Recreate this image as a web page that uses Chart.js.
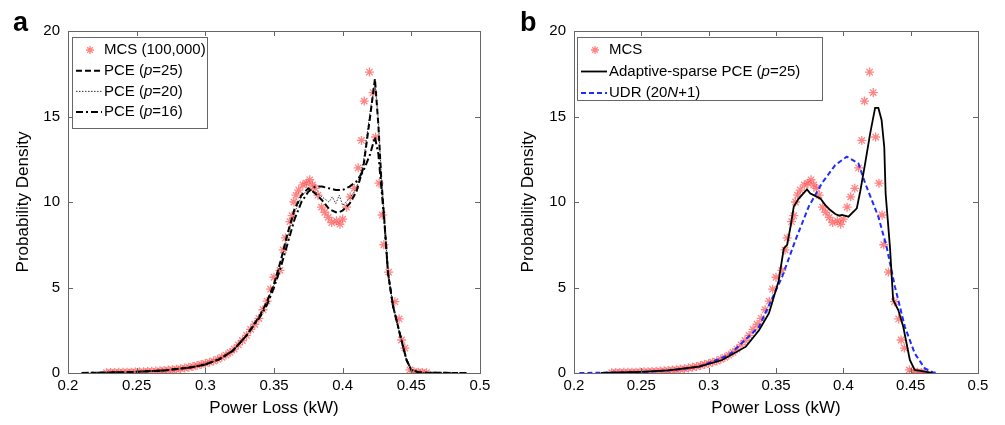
<!DOCTYPE html>
<html>
<head>
<title>Power loss PDF</title>
<script src="https://cdn.jsdelivr.net/npm/chart.js@4.4.0/dist/chart.umd.min.js"></script>
<style>
body { margin: 0; background: #fff; }
.panel { position: absolute; top: 0; height: 425px; }
#pa { left: 0; width: 500px; }
#pb { left: 505px; width: 500px; }
</style>
</head>
<body>
<div class="panel" id="pa"><canvas id="chartA"></canvas></div>
<div class="panel" id="pb"><canvas id="chartB"></canvas></div>
<script>
const FONT = "'Liberation Sans', Arial, sans-serif";

const xTicks = [0.2, 0.25, 0.3, 0.35, 0.4, 0.45, 0.5];
const yTicks = [0, 5, 10, 15, 20];

// MCS histogram points (shared by both panels)
const mcsX = [0.228,0.231,0.234,0.237,0.240,0.243,0.246,0.249,0.252,0.255,0.258,0.261,0.264,0.267,0.270,0.273,0.276,0.279,0.282,0.285,0.288,0.291,0.294,0.297,0.300,0.303,0.306,0.309,0.312,0.315,0.318,0.321,0.324,0.327,0.330,0.333,0.336,0.339,0.342,0.345,
  0.3475,0.350,0.3543,0.3567,0.3583,0.3616,0.3632,0.3645,0.366,0.368,0.371,0.3737,0.376,0.378,0.380,0.382,0.3846,0.387,0.3895,0.392,0.3955,0.398,0.400,0.4028,0.4055,0.4085,0.4113,0.4137,0.4157,0.4195,0.4222,0.4240,0.4265,0.4288,0.4300,0.4335,0.438,0.4411,0.4429,0.4453,0.449,0.452,0.455,0.458,0.461];
const mcsY = [0.02,0.03,0.03,0.04,0.04,0.05,0.05,0.06,0.07,0.08,0.09,0.10,0.11,0.13,0.15,0.17,0.19,0.22,0.25,0.29,0.33,0.38,0.44,0.50,0.56,0.63,0.70,0.80,0.92,1.05,1.20,1.40,1.65,1.90,2.2,2.55,2.85,3.2,3.7,4.2,
  4.9,5.6,6.0,7.2,7.9,8.85,9.2,10.0,10.4,10.7,11.0,11.1,11.3,11.0,10.8,10.4,9.7,9.4,9.1,8.8,8.9,8.7,9.0,9.7,10.3,10.8,12.0,13.6,15.9,17.6,16.4,13.8,11.1,9.24,7.5,5.9,4.17,3.16,1.93,1.46,0.18,0.08,0.05,0.03,0.02];

// panel a: PCE of different orders
const pceX = [0.21,0.23,0.25,0.27,0.29,0.30,0.31,0.32,0.33,0.34,0.345,0.35,0.355,0.36,0.365,0.37,0.375,0.38,0.385,0.39,0.3925,0.395,0.3975,0.40,0.405,0.41,0.415,0.42,0.4235,0.426,0.428,0.4307,0.433,0.4367,0.4416,0.4465,0.45,0.455,0.46,0.47,0.49];
const pce25 = [0,0.03,0.07,0.15,0.33,0.5,0.8,1.3,2.2,3.4,4.2,5.2,6.6,8.2,9.6,10.4,10.8,10.5,10.1,9.6,9.5,9.4,9.4,9.5,9.9,10.6,12.0,15.0,17.2,14.5,11.5,8.55,5.85,3.9,2.3,0.76,0.18,0.05,0.02,0.01,0];
const pce20 = [0,0.03,0.07,0.15,0.33,0.5,0.8,1.3,2.2,3.4,4.2,5.2,6.5,8.0,9.4,10.3,10.8,10.6,10.3,10.0,10.3,9.9,10.4,9.8,10.2,10.8,12.3,15.3,17.0,14.8,11.7,8.6,5.9,3.9,2.3,0.76,0.18,0.05,0.02,0.01,0];
const pce16 = [0,0.03,0.07,0.15,0.33,0.5,0.8,1.3,2.2,3.3,4.0,5.0,6.2,7.6,9.0,10.0,10.6,10.9,10.9,10.8,10.75,10.7,10.7,10.7,10.9,11.2,11.8,12.8,13.8,12.8,11.0,8.5,5.85,3.9,2.3,0.76,0.18,0.05,0.02,0.01,0];

// panel b: adaptive-sparse PCE and UDR
const asX = [0.22,0.25,0.27,0.293,0.31,0.3276,0.3374,0.3448,0.352,0.3558,0.3583,0.3608,0.3632,0.3669,0.373,0.3755,0.378,0.383,0.3866,0.3903,0.394,0.397,0.3989,0.4038,0.41,0.4125,0.4162,0.4199,0.4236,0.426,0.4284,0.4304,0.4314,0.4346,0.437,0.4408,0.4445,0.4494,0.453,0.463,0.466];
const asY = [0,0.07,0.15,0.37,0.76,1.54,2.5,3.5,5.4,7.29,7.5,8.56,9.73,10.2,10.74,10.5,10.4,10.2,9.82,9.53,9.3,9.2,9.24,9.14,9.63,10.6,12.26,14.0,15.5,15.5,14.8,13.2,10.5,7.39,4.27,3.68,2.7,0.76,0.18,0.05,0];
const udrX = [0.204,0.25,0.275,0.293,0.3152,0.3374,0.3546,0.3645,0.3743,0.3841,0.394,0.4026,0.4112,0.4162,0.426,0.4321,0.4383,0.4457,0.453,0.4605,0.4664,0.47];
const udrY = [0,0.05,0.18,0.37,1.05,2.7,5.63,7.78,9.73,11.1,12.16,12.65,12.26,11.1,9.14,7.39,5.05,2.7,1.15,0.27,0.05,0];

function pts(xs, ys) { return xs.map((x, i) => ({ x: x, y: ys[i] })); }

function drawStar(ctx, x, y, r, color) {
  ctx.save();
  ctx.strokeStyle = color; ctx.lineWidth = 1.3; ctx.setLineDash([]);
  ctx.beginPath();
  ctx.moveTo(x - r, y); ctx.lineTo(x + r, y);
  ctx.moveTo(x, y - r); ctx.lineTo(x, y + r);
  const d = r * 0.7;
  ctx.moveTo(x - d, y - d); ctx.lineTo(x + d, y + d);
  ctx.moveTo(x - d, y + d); ctx.lineTo(x + d, y - d);
  ctx.stroke();
  ctx.restore();
}

const framePlugin = {
  id: 'frame',
  afterDraw(chart, args, opts) {
    const ctx = chart.ctx, a = chart.chartArea;
    const sx = chart.scales.x, sy = chart.scales.y;
    ctx.save();
    ctx.strokeStyle = '#666'; ctx.lineWidth = 1; ctx.setLineDash([]);
    ctx.strokeRect(a.left + 0.5, a.top + 0.5, a.right - a.left, a.bottom - a.top);
    ctx.beginPath();
    xTicks.forEach(v => {
      const px = Math.round(sx.getPixelForValue(v)) + 0.5;
      ctx.moveTo(px, a.bottom); ctx.lineTo(px, a.bottom - 5);
      ctx.moveTo(px, a.top); ctx.lineTo(px, a.top + 5);
    });
    yTicks.forEach(v => {
      const py = Math.round(sy.getPixelForValue(v)) + 0.5;
      ctx.moveTo(a.left, py); ctx.lineTo(a.left + 5, py);
      ctx.moveTo(a.right, py); ctx.lineTo(a.right - 5, py);
    });
    ctx.stroke();

    // legend box
    const lg = opts.legend;
    ctx.fillStyle = '#fff';
    ctx.fillRect(lg.x, lg.y, lg.w, lg.h);
    ctx.strokeStyle = '#666';
    ctx.strokeRect(lg.x + 0.5, lg.y + 0.5, lg.w, lg.h);
    ctx.textBaseline = 'middle';
    ctx.fillStyle = '#000';
    lg.items.forEach((it, i) => {
      const ds = chart.data.datasets[it.ds];
      const yy = lg.y + lg.first + i * lg.step;
      const x0 = lg.x + 4, x1 = lg.x + 30;
      if (it.marker) {
        drawStar(ctx, (x0 + x1) / 2 + 1, yy, 4, ds.borderColor);
      } else {
        ctx.save();
        ctx.strokeStyle = ds.borderColor; ctx.lineWidth = ds.borderWidth;
        ctx.setLineDash(ds.borderDash || []);
        ctx.beginPath(); ctx.moveTo(x0, yy); ctx.lineTo(x1, yy); ctx.stroke();
        ctx.restore();
      }
      let tx = lg.x + 32;
      it.text.forEach(seg => {
        ctx.font = (seg[1] === 'i' ? 'italic ' : '') + '15px ' + FONT;
        ctx.fillText(seg[0], tx, yy);
        tx += ctx.measureText(seg[0]).width;
      });
    });

    // panel letter
    ctx.font = 'bold 27px ' + FONT;
    ctx.textBaseline = 'alphabetic';
    ctx.fillText(opts.letter, opts.letterX, 31);
    ctx.restore();
  }
};

function makeScales(yWidth) {
  return {
    x: {
      type: 'linear', min: 0.2, max: 0.5,
      afterBuildTicks: s => { s.ticks = xTicks.map(v => ({ value: v })); },
      afterFit: s => { s.height = 52; },
      grid: { display: false, drawTicks: false }, border: { display: false },
      ticks: { color: '#000', font: { family: FONT, size: 15 }, padding: 4, maxRotation: 0,
        callback: v => String(+v.toFixed(2)) },
      title: { display: true, text: 'Power Loss (kW)', color: '#000',
        font: { family: FONT, size: 17 }, padding: { top: 0, bottom: 6 } }
    },
    y: {
      type: 'linear', min: 0, max: 20,
      afterBuildTicks: s => { s.ticks = yTicks.map(v => ({ value: v })); },
      afterFit: s => { s.width = yWidth; },
      grid: { display: false, drawTicks: false }, border: { display: false },
      ticks: { color: '#000', font: { family: FONT, size: 15 }, padding: 8 },
      title: { display: true, text: 'Probability Density', color: '#000',
        font: { family: FONT, size: 17 }, padding: { top: 13, bottom: 0 } }
    }
  };
}

const mcsStyle = {
  showLine: false, pointStyle: 'star', pointRadius: 4.5, pointBorderWidth: 1.3,
  borderColor: 'rgba(255,80,80,0.7)', backgroundColor: 'rgba(255,80,80,0.7)',
  pointHoverRadius: 4.5
};

new Chart(document.getElementById('chartA'), {
  type: 'scatter',
  data: {
    datasets: [
      Object.assign({ label: 'MCS (100,000)', data: pts(mcsX, mcsY), order: 4 }, mcsStyle),
      { label: 'PCE (p=25)', data: pts(pceX, pce25), showLine: true, pointRadius: 0,
        borderColor: '#000', borderWidth: 2, borderDash: [6, 3], order: 1 },
      { label: 'PCE (p=20)', data: pts(pceX, pce20), showLine: true, pointRadius: 0,
        borderColor: '#333', borderWidth: 1, borderDash: [1.5, 1.5], order: 2 },
      { label: 'PCE (p=16)', data: pts(pceX, pce16), showLine: true, pointRadius: 0,
        borderColor: '#000', borderWidth: 2, borderDash: [7, 3, 2, 3], order: 3 }
    ]
  },
  options: {
    responsive: true, maintainAspectRatio: false, animation: false, devicePixelRatio: 1,
    layout: { padding: { left: 0, right: 20, top: 31, bottom: 0 } },
    scales: makeScales(68),
    plugins: {
      legend: { display: false }, tooltip: { enabled: false },
      frame: {
        letter: 'a', letterX: 13,
        legend: { x: 72, y: 37, w: 135, h: 91, first: 13, step: 20.7, items: [
          { ds: 0, marker: true, text: [['MCS (100,000)', 'n']] },
          { ds: 1, text: [['PCE (', 'n'], ['p', 'i'], ['=25)', 'n']] },
          { ds: 2, text: [['PCE (', 'n'], ['p', 'i'], ['=20)', 'n']] },
          { ds: 3, text: [['PCE (', 'n'], ['p', 'i'], ['=16)', 'n']] }
        ] }
      }
    }
  },
  plugins: [framePlugin]
});

new Chart(document.getElementById('chartB'), {
  type: 'scatter',
  data: {
    datasets: [
      Object.assign({ label: 'MCS', data: pts(mcsX, mcsY), order: 3 }, mcsStyle),
      { label: 'Adaptive-sparse PCE (p=25)', data: pts(asX, asY), showLine: true, pointRadius: 0,
        borderColor: '#000', borderWidth: 1.8, order: 1 },
      { label: 'UDR (20N+1)', data: pts(udrX, udrY), showLine: true, pointRadius: 0,
        borderColor: '#1f2bff', borderWidth: 2, borderDash: [5, 3], order: 2 }
    ]
  },
  options: {
    responsive: true, maintainAspectRatio: false, animation: false, devicePixelRatio: 1,
    layout: { padding: { left: 0, right: 27, top: 31, bottom: 0 } },
    scales: makeScales(69),
    plugins: {
      legend: { display: false }, tooltip: { enabled: false },
      frame: {
        letter: 'b', letterX: 15,
        legend: { x: 72, y: 37, w: 245, h: 63, first: 13, step: 21.5, items: [
          { ds: 0, marker: true, text: [['MCS', 'n']] },
          { ds: 1, text: [['Adaptive-sparse PCE (', 'n'], ['p', 'i'], ['=25)', 'n']] },
          { ds: 2, text: [['UDR (20', 'n'], ['N', 'i'], ['+1)', 'n']] }
        ] }
      }
    }
  },
  plugins: [framePlugin]
});
</script>
</body>
</html>
